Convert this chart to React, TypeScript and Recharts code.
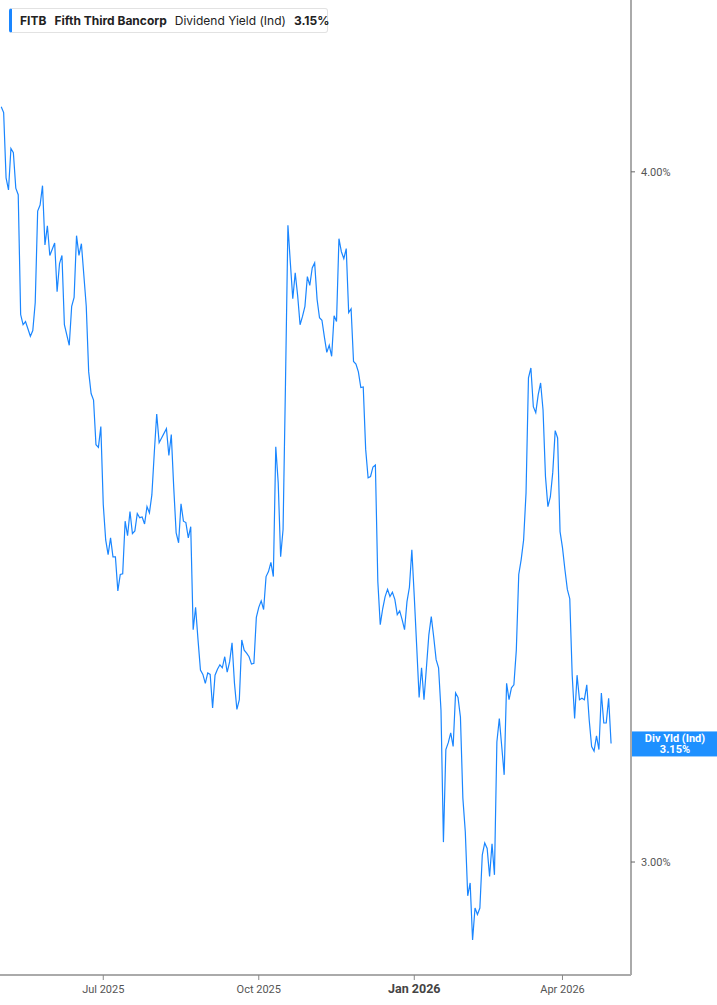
import { LineChart, Line, XAxis, YAxis, ReferenceLine } from 'recharts';

// trading-day index (0 = first session shown) and dividend yield (%)
const dayIndex = [
  0, 1, 2, 3, 4, 5, 6, 7, 8, 9, 10, 12, 13, 14, 15, 16, 17, 18, 19, 20,
  22, 23, 24, 25, 26, 28, 29, 30, 31, 32, 33, 35, 36, 37, 38, 39, 40, 41, 42, 43,
  44, 45, 46, 47, 48, 49, 50, 51, 52, 53, 54, 55, 56, 57, 58, 59, 60, 61, 62, 63,
  64, 65, 66, 68, 69, 70, 71, 72, 73, 74, 75, 76, 77, 78, 79, 80, 81, 82, 83, 84,
  85, 86, 87, 88, 89, 90, 91, 92, 93, 94, 95, 96, 97, 98, 99, 100, 101, 102, 103, 104,
  105, 106, 107, 108, 109, 110, 111, 112, 113, 114, 115, 116, 117, 118, 119, 120, 121, 122, 123, 124,
  125, 126, 127, 128, 129, 130, 131, 132, 133, 134, 135, 136, 137, 138, 139, 140, 141, 142, 143, 144,
  145, 146, 147, 148, 149, 150, 151, 152, 153, 154, 155, 156, 157, 158, 159, 160, 161, 162, 163, 164,
  165, 166, 167, 168, 169, 170, 171, 172, 173, 174, 175, 176, 177, 178, 179, 180, 181, 182, 183, 184,
  185, 186, 187, 188, 189, 190, 191, 192, 193, 194, 195, 196, 197, 198, 199, 200, 201, 202, 203, 204,
  205, 206, 207, 208, 209, 210, 211, 212, 213, 214, 215, 216, 217, 218, 219, 220, 221, 222, 223, 224,
  225, 226, 227, 228, 229, 230, 231, 232, 233, 234, 235, 236, 237, 238, 239, 240, 241, 242, 243, 244,
  245, 246, 247, 248, 249, 250, 251,
];

const yieldPct = [
  4.110, 4.100, 3.990, 3.970, 4.039, 4.032, 3.973, 3.962, 3.769, 3.753, 3.758, 3.735, 3.744, 3.788, 3.935, 3.945, 3.977, 3.880, 3.911, 3.863,
  3.883, 3.805, 3.850, 3.863, 3.753, 3.721, 3.782, 3.796, 3.895, 3.863, 3.882, 3.782, 3.680, 3.647, 3.637, 3.570, 3.566, 3.597, 3.482, 3.431,
  3.410, 3.434, 3.407, 3.407, 3.359, 3.382, 3.383, 3.458, 3.437, 3.472, 3.440, 3.444, 3.469, 3.463, 3.464, 3.454, 3.479, 3.470, 3.496, 3.558,
  3.616, 3.573, 3.580, 3.594, 3.554, 3.585, 3.507, 3.441, 3.427, 3.483, 3.458, 3.456, 3.434, 3.450, 3.305, 3.336, 3.291, 3.250, 3.244, 3.232,
  3.246, 3.244, 3.199, 3.243, 3.251, 3.257, 3.253, 3.268, 3.247, 3.261, 3.287, 3.232, 3.197, 3.210, 3.291, 3.277, 3.273, 3.268, 3.258, 3.259,
  3.322, 3.336, 3.345, 3.333, 3.379, 3.386, 3.399, 3.379, 3.567, 3.514, 3.407, 3.446, 3.663, 3.912, 3.851, 3.794, 3.835, 3.799, 3.753, 3.766,
  3.782, 3.829, 3.815, 3.843, 3.851, 3.793, 3.764, 3.760, 3.734, 3.710, 3.721, 3.704, 3.767, 3.758, 3.890, 3.869, 3.858, 3.874, 3.772, 3.778,
  3.696, 3.692, 3.680, 3.656, 3.657, 3.563, 3.521, 3.523, 3.537, 3.540, 3.372, 3.312, 3.334, 3.351, 3.361, 3.351, 3.357, 3.347, 3.326, 3.331,
  3.319, 3.305, 3.344, 3.364, 3.417, 3.351, 3.282, 3.213, 3.253, 3.210, 3.253, 3.298, 3.323, 3.295, 3.264, 3.253, 3.196, 3.025, 3.144, 3.153,
  3.166, 3.148, 3.219, 3.213, 3.187, 3.081, 3.038, 2.958, 2.974, 2.904, 2.943, 2.935, 2.943, 3.009, 3.024, 3.017, 2.982, 3.023, 2.984, 3.154,
  3.185, 3.148, 3.111, 3.232, 3.210, 3.226, 3.230, 3.277, 3.382, 3.403, 3.431, 3.499, 3.671, 3.686, 3.627, 3.618, 3.645, 3.663, 3.622, 3.523,
  3.479, 3.493, 3.529, 3.591, 3.580, 3.443, 3.420, 3.389, 3.361, 3.348, 3.243, 3.185, 3.243, 3.210, 3.212, 3.210, 3.230, 3.183, 3.148, 3.142,
  3.162, 3.144, 3.219, 3.179, 3.179, 3.212, 3.152,
];

const tickDays = [42, 106, 170, 231];
const tickLabels = ['Jul 2025', 'Oct 2025', 'Jan 2026', 'Apr 2026'];
const yTicks = [3, 4];

const data = dayIndex.map((d, i) => ({ day: d, value: yieldPct[i] }));
const lastValue = yieldPct[yieldPct.length - 1];

const LINE_COLOR = '#1a86ff';

function XTick(props: any) {
  const { x, y, payload } = props;
  const label = tickLabels[tickDays.indexOf(payload.value)];
  const isYear = label && label.startsWith('Jan');
  return (
    <g>
      <line x1={x} y1={y - 8} x2={x} y2={y - 3} stroke="#888" strokeWidth={1} />
      <text
        x={x}
        y={y + 10}
        textAnchor="middle"
        fontFamily="Roboto, sans-serif"
        fontSize={isYear ? 12.5 : 11}
        fontWeight={isYear ? 700 : 400}
        fill={isYear ? '#444' : '#555'}
      >
        {label}
      </text>
    </g>
  );
}

function EndLabel(props: any) {
  const { viewBox } = props;
  const x = viewBox.x + viewBox.width + 1;
  const y = viewBox.y;
  return (
    <g>
      <rect x={x} y={y - 12} width={86} height={25} fill="#1e90ff" />
      <text x={x + 43} y={y - 1} textAnchor="middle" fill="#fff" fontSize={11} fontWeight={700} fontFamily="Roboto, sans-serif">
        Div Yld (Ind)
      </text>
      <text x={x + 43} y={y + 10} textAnchor="middle" fill="#fff" fontSize={11} fontWeight={700} fontFamily="Roboto, sans-serif">
        {lastValue.toFixed(2)}%
      </text>
    </g>
  );
}

export default function App() {
  return (
    <div style={{ position: 'absolute', left: 0, top: 0, width: 717, height: 1005, background: '#fff' }}>
      <LineChart width={717} height={1005} data={data} margin={{ top: 0, right: 0, left: 0, bottom: 0 }}>
        <XAxis
          dataKey="day"
          type="number"
          domain={[-0.5, 259.2]}
          ticks={tickDays}
          tick={<XTick />}
          tickLine={false}
          axisLine={{ stroke: '#aaa', strokeWidth: 2 }}
          height={30}
          interval={0}
        />
        <YAxis
          orientation="right"
          scale="log"
          domain={[2.862, 4.297]}
          allowDataOverflow
          ticks={yTicks}
          tickFormatter={(v: number) => `${v.toFixed(2)}%`}
          tick={{ fill: '#555', fontSize: 11, fontFamily: 'Roboto, sans-serif' }}
          tickLine={{ stroke: '#666' }}
          tickSize={4}
          tickMargin={6}
          axisLine={{ stroke: '#aaa', strokeWidth: 2 }}
          width={86}
        />
        <ReferenceLine y={lastValue} stroke="none" label={<EndLabel />} />
        <Line
          type="linear"
          dataKey="value"
          stroke={LINE_COLOR}
          strokeWidth={1.2}
          dot={false}
          activeDot={false}
          isAnimationActive={false}
        />
      </LineChart>

      {/* header legend */}
      <div
        style={{
          position: 'absolute',
          left: 9,
          top: 8,
          height: 25,
          width: 319,
          boxSizing: 'border-box',
          border: '1px solid #e2e2e2',
          borderLeft: `3px solid ${LINE_COLOR}`,
          borderRadius: 3,
          background: '#fff',
          display: 'flex',
          alignItems: 'center',
          gap: 8,
          paddingLeft: 8,
          fontFamily: 'Inter, sans-serif',
          fontSize: 12,
          color: '#222',
          whiteSpace: 'nowrap',
        }}
      >
        <span style={{ fontWeight: 700 }}>FITB</span>
        <span style={{ fontWeight: 700 }}>Fifth Third Bancorp</span>
        <span>Dividend Yield (Ind)</span>
        <span style={{ fontWeight: 700 }}>{lastValue.toFixed(2)}%</span>
      </div>
    </div>
  );
}
